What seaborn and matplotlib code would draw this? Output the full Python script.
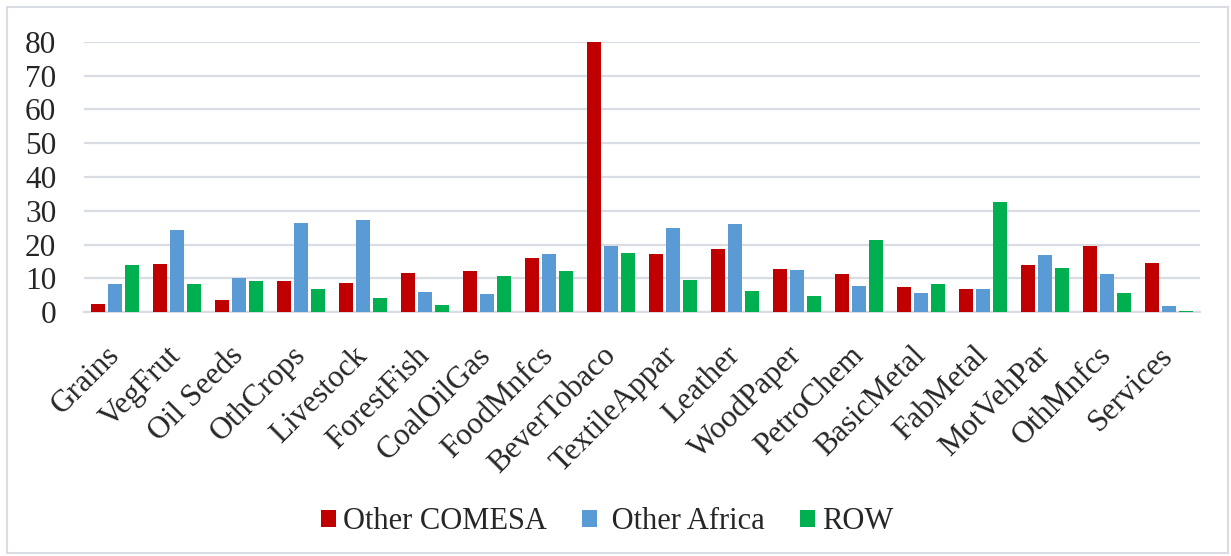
import pandas as pd
import matplotlib.pyplot as plt
import seaborn as sns
from matplotlib.patches import Rectangle

# Sector labels and the three trade-partner series
sectors = ["Grains", "VegFrut", "Oil Seeds", "OthCrops", "Livestock", "ForestFish",
           "CoalOilGas", "FoodMnfcs", "BeverTobaco", "TextileAppar", "Leather",
           "WoodPaper", "PetroChem", "BasicMetal", "FabMetal", "MotVehPar",
           "OthMnfcs", "Services"]
other_comesa = [2.6, 14.2, 3.7, 9.3, 8.6, 11.5, 12.1, 16.0, 80.0, 17.1, 18.8,
                12.7, 11.3, 7.6, 6.8, 14.1, 19.7, 14.5]
other_africa = [8.3, 24.3, 10.0, 26.3, 27.3, 5.9, 5.5, 17.1, 19.5, 25.0, 26.1,
                12.4, 7.7, 5.8, 7.0, 16.8, 11.2, 1.8]
row = [13.9, 8.4, 9.4, 6.8, 4.1, 2.1, 10.6, 12.3, 17.4, 9.6, 6.2,
       4.9, 21.3, 8.4, 32.5, 13.2, 5.8, 0.5]

series_names = ["Other COMESA", "Other Africa", "ROW"]
colors = ["#C00000", "#5B9BD5", "#00B050"]


def make_chart():
    df = pd.DataFrame({"sector": sectors, series_names[0]: other_comesa,
                       series_names[1]: other_africa, series_names[2]: row})
    long_df = df.melt(id_vars="sector", var_name="region", value_name="value")

    sns.set_style("white")
    plt.rcParams["font.family"] = ["Liberation Serif", "DejaVu Serif"]

    fig = plt.figure(figsize=(12.31, 5.56), dpi=100)
    ax = fig.add_axes([84 / 1231, 1 - 312.3 / 556, (1200 - 84) / 1231, (312.3 - 41.7) / 556])

    sns.barplot(data=long_df, x="sector", y="value", hue="region",
                hue_order=series_names, palette=colors, width=0.84, gap=0.2,
                saturation=1, linewidth=0, ax=ax, zorder=3)

    ax.set_ylim(0, 80)
    ax.set_xlim(-0.5, len(sectors) - 0.5)
    ax.set_yticks(range(0, 81, 10))
    ax.yaxis.grid(True, color="#d9dde3", linewidth=1.6, zorder=0)
    ax.set_axisbelow(True)
    for side in ["left", "right", "top"]:
        ax.spines[side].set_visible(False)
    ax.spines["bottom"].set_color("#d9dde3")
    ax.spines["bottom"].set_linewidth(1.6)

    ax.set_xlabel("")
    ax.set_ylabel("")
    ax.tick_params(axis="y", length=0, pad=20, labelsize=22.5)
    ax.tick_params(axis="x", length=0, pad=28, labelsize=22.5)
    plt.setp(ax.get_xticklabels(), rotation=45, ha="right", va="center",
             rotation_mode="anchor")

    # the original legend has an extra space before "Other Africa"
    handles, labels = ax.get_legend_handles_labels()
    labels = [lab if lab != "Other Africa" else " " + lab for lab in labels]
    ax.legend(handles, labels, loc="center", bbox_to_anchor=(0.4935, 0.062),
              bbox_transform=fig.transFigure, ncol=3, frameon=False,
              fontsize=22, handlelength=0.49, handleheight=0.49,
              handletextpad=0.23, columnspacing=1.15, borderaxespad=0)

    # light frame around the whole chart area
    fig.patches.append(Rectangle((7 / 1231, 3 / 556), 1221 / 1231, 546 / 556,
                                 transform=fig.transFigure, fill=False,
                                 edgecolor="#d9dde3", linewidth=1.5))

    fig.savefig("out.png", dpi=100)


if __name__ == "__main__":
    make_chart()
